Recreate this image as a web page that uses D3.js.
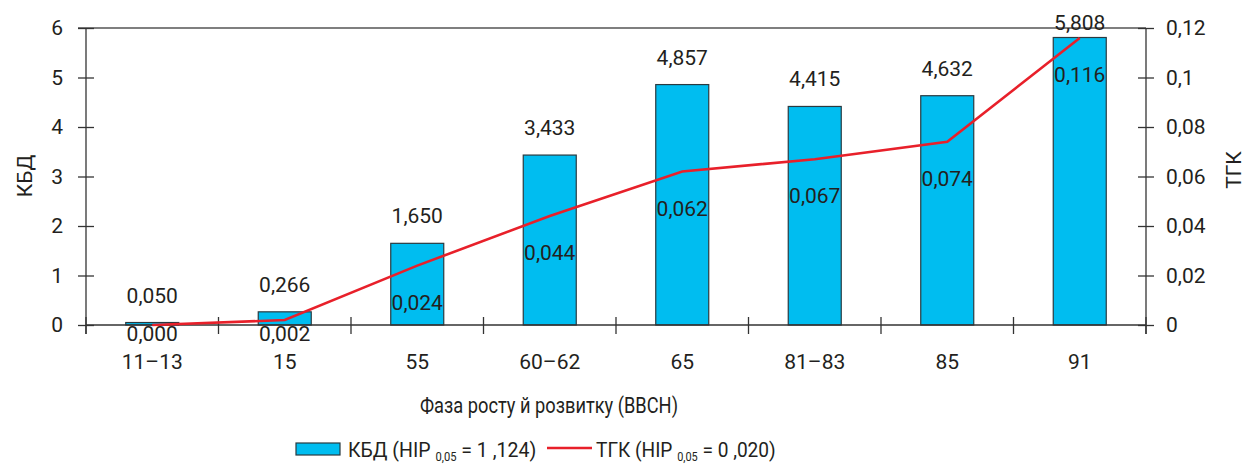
<!DOCTYPE html>
<html>
<head>
<meta charset="utf-8">
<script src="https://cdn.jsdelivr.net/npm/d3@7"></script>
<style>
  body { margin: 0; background: #fff; }
  text { font-family: Roboto, "Open Sans", sans-serif; fill: #231f20; }
</style>
</head>
<body>
<svg id="chart" width="1250" height="465"></svg>
<script>
// data
var phases = ["11–13", "15", "55", "60–62", "65", "81–83", "85", "91"];
var kbd = [0.050, 0.266, 1.650, 3.433, 4.857, 4.415, 4.632, 5.808];
var tgk = [0.000, 0.002, 0.024, 0.044, 0.062, 0.067, 0.074, 0.116];
var leftTicks = [0, 1, 2, 3, 4, 5, 6];
var rightTicks = [0, 0.02, 0.04, 0.06, 0.08, 0.1, 0.12];

var svg = d3.select("#chart"),
    margin = {top: 28, right: 104, bottom: 140, left: 86},
    width = +svg.attr("width") - margin.left - margin.right,
    height = +svg.attr("height") - margin.top - margin.bottom;

var comma = function (v, n) {
  return (n === undefined ? String(v) : v.toFixed(n)).replace(".", ",");
};

var x = d3.scaleBand().domain(phases).range([0, width]).padding(0);
var yL = d3.scaleLinear().domain([0, 6]).range([height, 0]);
var yR = d3.scaleLinear().domain([0, 0.12]).range([height, 0]);

var g = svg.append("g")
    .attr("transform", "translate(" + margin.left + "," + margin.top + ")");

// top border
g.append("line")
    .attr("x1", -8).attr("x2", width)
    .attr("y1", 0).attr("y2", 0)
    .attr("stroke", "#555").attr("stroke-width", 1.3);

// bars
var barW = x.bandwidth() * 0.4;
g.selectAll("rect.bar")
    .data(kbd)
    .enter().append("rect")
    .attr("class", "bar")
    .attr("x", function (d, i) { return x(phases[i]) + x.bandwidth() / 2 - barW / 2; })
    .attr("y", function (d) { return yL(d); })
    .attr("width", barW)
    .attr("height", function (d) { return height - yL(d); })
    .attr("fill", "#00bdf0")
    .attr("stroke", "#2a3a40")
    .attr("stroke-width", 1.2);

// x axis line + category ticks
g.append("line")
    .attr("x1", 0).attr("x2", width)
    .attr("y1", height).attr("y2", height)
    .attr("stroke", "#333").attr("stroke-width", 1.3);
g.selectAll("line.cat")
    .data(d3.range(phases.length + 1))
    .enter().append("line")
    .attr("class", "cat")
    .attr("x1", function (i) { return i * x.step(); })
    .attr("x2", function (i) { return i * x.step(); })
    .attr("y1", height - 8).attr("y2", height + 9)
    .attr("stroke", "#333").attr("stroke-width", 1.3);
g.selectAll("text.cat")
    .data(phases)
    .enter().append("text")
    .attr("class", "cat")
    .attr("x", function (d) { return x(d) + x.bandwidth() / 2; })
    .attr("y", height + 44)
    .attr("text-anchor", "middle")
    .attr("font-size", 21)
    .text(function (d) { return d; });

// left axis
var axL = g.append("g")
    .call(d3.axisLeft(yL).tickValues(leftTicks).tickSize(8).tickPadding(15).tickFormat(function (d) { return d; }));
axL.select(".domain").remove();
axL.append("line").attr("x1", 0).attr("x2", 0).attr("y1", 0).attr("y2", height + 9)
    .attr("stroke", "#333").attr("stroke-width", 1.3);
axL.selectAll(".tick line").attr("x1", -8).attr("x2", 8).attr("stroke", "#333").attr("stroke-width", 1.3);
axL.selectAll(".tick text").attr("font-size", 21).attr("font-family", null).attr("fill", "#231f20");

// right axis
var axR = g.append("g")
    .attr("transform", "translate(" + width + ",0)")
    .call(d3.axisRight(yR).tickValues(rightTicks).tickSize(8).tickPadding(12).tickFormat(function (d) { return comma(+d.toFixed(2)); }));
axR.select(".domain").remove();
axR.append("line").attr("x1", 0).attr("x2", 0).attr("y1", 0).attr("y2", height + 9)
    .attr("stroke", "#333").attr("stroke-width", 1.3);
axR.selectAll(".tick line").attr("x1", -8).attr("x2", 8).attr("stroke", "#333").attr("stroke-width", 1.3);
axR.selectAll(".tick text").attr("font-size", 21).attr("font-family", null).attr("fill", "#231f20");

// line
var line = d3.line()
    .x(function (d, i) { return x(phases[i]) + x.bandwidth() / 2; })
    .y(function (d) { return yR(d); });
g.append("path")
    .datum(tgk)
    .attr("fill", "none")
    .attr("stroke", "#e8202a")
    .attr("stroke-width", 2.6)
    .attr("d", line);

// bar labels
g.selectAll("text.kbd")
    .data(kbd)
    .enter().append("text")
    .attr("class", "kbd")
    .attr("x", function (d, i) { return x(phases[i]) + x.bandwidth() / 2; })
    .attr("y", function (d) { return Math.max(yL(d) - 20, 2); })
    .attr("text-anchor", "middle")
    .attr("font-size", 21)
    .text(function (d) { return comma(d, 3); });

// line labels
g.selectAll("text.tgk")
    .data(tgk)
    .enter().append("text")
    .attr("class", "tgk")
    .attr("x", function (d, i) { return x(phases[i]) + x.bandwidth() / 2; })
    .attr("y", function (d) { return Math.min(yR(d) + 44, height + 16); })
    .attr("text-anchor", "middle")
    .attr("font-size", 21)
    .text(function (d) { return comma(d, 3); });

// axis titles
svg.append("text")
    .attr("transform", "translate(32,176) rotate(-90)")
    .attr("text-anchor", "middle")
    .attr("font-size", 21)
    .text("КБД");
svg.append("text")
    .attr("transform", "translate(1241,170) rotate(-90)")
    .attr("text-anchor", "middle")
    .attr("font-size", 21)
    .text("ТГК");
svg.append("text")
    .attr("x", 420)
    .attr("y", 413)
    .attr("font-size", 22)
    .attr("textLength", 258)
    .attr("lengthAdjust", "spacingAndGlyphs")
    .text("Фаза росту й розвитку (ВВСН)");

// legend
var leg = svg.append("g");
leg.append("rect")
    .attr("x", 296).attr("y", 443).attr("width", 44).attr("height", 12)
    .attr("fill", "#00bdf0").attr("stroke", "#2a3a40").attr("stroke-width", 1.2);
var t1 = leg.append("text").attr("transform", "translate(348,457) scale(0.93,1)").attr("font-size", 21);
t1.append("tspan").text("КБД (НІР ");
t1.append("tspan").attr("font-size", 12).attr("dy", 4).text("0,05");
t1.append("tspan").attr("dy", -4).text(" = 1 ,124)");
leg.append("line")
    .attr("x1", 547).attr("x2", 592).attr("y1", 448).attr("y2", 448)
    .attr("stroke", "#e8202a").attr("stroke-width", 2.6);
var t2 = leg.append("text").attr("transform", "translate(596,457) scale(0.91,1)").attr("font-size", 21);
t2.append("tspan").text("ТГК (НІР ");
t2.append("tspan").attr("font-size", 12).attr("dy", 4).text("0,05");
t2.append("tspan").attr("dy", -4).text(" = 0 ,020)");
</script>
</body>
</html>
